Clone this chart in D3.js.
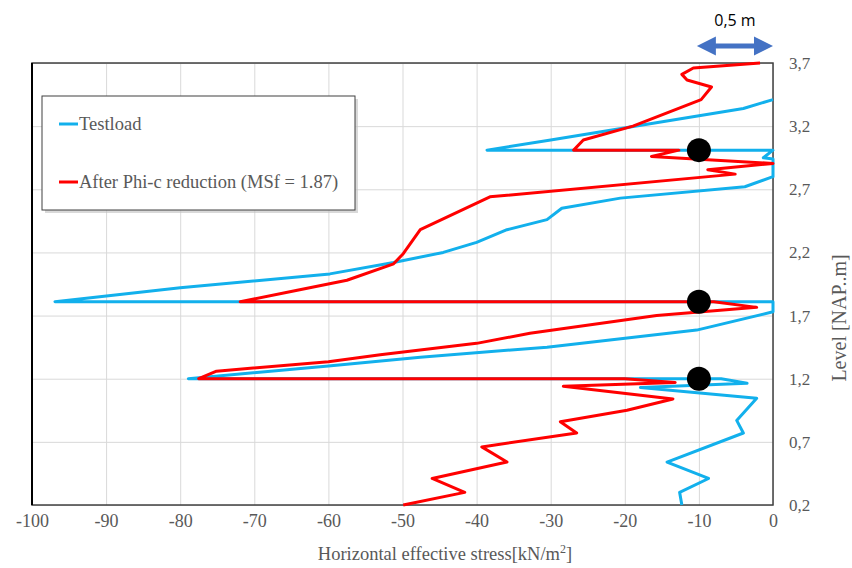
<!DOCTYPE html>
<html>
<head>
<meta charset="utf-8">
<script src="https://cdn.jsdelivr.net/npm/d3@7"></script>
<style>
  body { margin: 0; background: #fff; }
  svg { display: block; }
</style>
</head>
<body>
<svg id="chart" width="852" height="568"></svg>
<script>
/* chart values */
var xTicks = [-100, -90, -80, -70, -60, -50, -40, -30, -20, -10, 0];
var yTicks = [0.2, 0.7, 1.2, 1.7, 2.2, 2.7, 3.2, 3.7];

// Testload profile (stress kN/m2, level m)
var testloadStress = [0, -4, -30, -38.6, 0, -1.3, 0, 0, -3.8, -20.6, -28.5, -30.5, -35.9, -40, -44.5, -51.2, -59.8, -80, -96.9,
  0, 0, -10.3, -30.5, -47.6, -60, -78.9, -7, -3.5, -17.9, -2.2, -4.9, -4.0, -14.3, -8.7, -12.6, -12.3];
var testloadLevel = [3.41, 3.34, 3.09, 3.01, 3.01, 2.95, 2.94, 2.80, 2.72, 2.63, 2.55, 2.46, 2.38, 2.28, 2.20, 2.12, 2.03, 1.92, 1.81,
  1.81, 1.73, 1.585, 1.45, 1.37, 1.30, 1.20, 1.20, 1.165, 1.13, 1.045, 0.87, 0.77, 0.54, 0.41, 0.30, 0.20];

// After Phi-c reduction profile
var reductionStress = [-1.75, -10.75, -12.3, -11.6, -8.3, -9.7, -18.9, -25.6, -26.9, -12.7, -16.4, 0, -8.8, -5.1, -38.2, -47.6,
  -49.9, -51.2, -57.5, -64.2, -71.9, -8, -2.2, -15.7, -32.8, -40, -53, -60, -75.1, -77.5, -20, -13.2, -28.3, -13.5, -19.7,
  -28.7, -26.5, -39.3, -35.9, -46, -41.6, -49.9];
var reductionLevel = [3.70, 3.66, 3.61, 3.565, 3.51, 3.41, 3.20, 3.09, 3.01, 3.01, 2.96, 2.905, 2.855, 2.82, 2.64, 2.38,
  2.19, 2.11, 1.98, 1.90, 1.81, 1.81, 1.765, 1.70, 1.56, 1.48, 1.39, 1.335, 1.26, 1.20, 1.20, 1.17, 1.14, 1.04, 0.95,
  0.86, 0.77, 0.66, 0.54, 0.41, 0.30, 0.20];

// black markers
var markerStress = [-10, -10, -10];
var markerLevel = [3.01, 1.81, 1.20];

var seriesNames = ['Testload', 'After Phi-c reduction (MSf = 1.87)'];
var seriesColors = ['#12b0ec', '#ff0000'];

var svg = d3.select('#chart');
var plotLeft = 32, plotRight = 773, plotTop = 63, plotBottom = 505;
var serif = '"Liberation Serif", "DejaVu Serif", serif';

var x = d3.scaleLinear().domain([-100, 0]).range([plotLeft, plotRight]);
var y = d3.scaleLinear().domain([0.2, 3.7]).range([plotBottom, plotTop]);

var comma = function(d) { return d3.format('.1f')(d).replace('.', ','); };

// gridlines
svg.append('g')
  .attr('transform', 'translate(0,' + plotBottom + ')')
  .call(d3.axisBottom(x).tickValues(xTicks).tickSize(-(plotBottom - plotTop)).tickFormat(''))
  .call(function(g) {
    g.select('.domain').remove();
    g.selectAll('line').attr('stroke', '#d9d9d9').attr('stroke-width', 1);
  });
svg.append('g')
  .attr('transform', 'translate(' + plotLeft + ',0)')
  .call(d3.axisLeft(y).tickValues(yTicks).tickSize(-(plotRight - plotLeft)).tickFormat(''))
  .call(function(g) {
    g.select('.domain').remove();
    g.selectAll('line').attr('stroke', '#d9d9d9').attr('stroke-width', 1);
  });

// tick labels
svg.append('g')
  .attr('transform', 'translate(0,' + (plotBottom + 5) + ')')
  .call(d3.axisBottom(x).tickValues(xTicks).tickSize(0).tickFormat(function(d) { return String(d); }))
  .call(function(g) {
    g.select('.domain').remove();
    g.selectAll('text').attr('font-size', 18).attr('font-family', serif).attr('fill', '#595959').attr('dy', '0.8em');
  });
svg.append('g')
  .attr('transform', 'translate(' + (plotRight + 16) + ',0)')
  .call(d3.axisRight(y).tickValues(yTicks).tickSize(0).tickFormat(comma))
  .call(function(g) {
    g.select('.domain').remove();
    g.selectAll('text').attr('font-size', 17).attr('font-family', serif).attr('fill', '#595959').attr('x', 0);
  });

// plot frame
svg.append('rect')
  .attr('x', plotLeft).attr('y', plotTop)
  .attr('width', plotRight - plotLeft).attr('height', plotBottom - plotTop)
  .attr('fill', 'none').attr('stroke', '#404040').attr('stroke-width', 1.5);
svg.append('line')
  .attr('x1', plotLeft).attr('x2', plotLeft).attr('y1', plotTop).attr('y2', plotBottom)
  .attr('stroke', '#000').attr('stroke-width', 2);

// profiles
var line = d3.line()
  .x(function(d) { return x(d[0]); })
  .y(function(d) { return y(d[1]); });

var profiles = [d3.zip(testloadStress, testloadLevel), d3.zip(reductionStress, reductionLevel)];
svg.append('g').selectAll('path')
  .data(profiles)
  .join('path')
  .attr('d', line)
  .attr('fill', 'none')
  .attr('stroke', function(d, i) { return seriesColors[i]; })
  .attr('stroke-width', 3)
  .attr('stroke-linejoin', 'round');

svg.append('g').selectAll('circle')
  .data(d3.zip(markerStress, markerLevel))
  .join('circle')
  .attr('cx', function(d) { return x(d[0]); })
  .attr('cy', function(d) { return y(d[1]); })
  .attr('r', 12)
  .attr('fill', '#000');

// legend
var legend = svg.append('g').attr('transform', 'translate(42,96)');
legend.append('rect')
  .attr('x', 3).attr('y', 3).attr('width', 313).attr('height', 114)
  .attr('fill', '#bfbfbf').attr('opacity', 0.6);
legend.append('rect')
  .attr('width', 313).attr('height', 114)
  .attr('fill', '#fff').attr('stroke', '#404040').attr('stroke-width', 1);
var item = legend.selectAll('g.item')
  .data(seriesNames)
  .join('g')
  .attr('class', 'item')
  .attr('transform', function(d, i) { return 'translate(0,' + (28 + i * 58) + ')'; });
item.append('line')
  .attr('x1', 17).attr('x2', 36)
  .attr('stroke', function(d, i) { return seriesColors[i]; })
  .attr('stroke-width', 3);
item.append('text')
  .attr('x', 37).attr('dy', '0.35em')
  .attr('font-family', serif)
  .attr('font-size', 18.5)
  .attr('fill', '#595959')
  .text(function(d) { return d; });

// axis titles
var xTitle = svg.append('text')
  .attr('x', 445).attr('y', 560)
  .attr('text-anchor', 'middle')
  .attr('font-family', serif)
  .attr('font-size', 18.5)
  .attr('fill', '#595959');
xTitle.append('tspan').text('Horizontal effective stress[kN/m');
xTitle.append('tspan').attr('font-size', 12).attr('dy', -7).text('2');
xTitle.append('tspan').attr('dy', 7).text(']');

svg.append('text')
  .attr('transform', 'translate(846,318) rotate(-90)')
  .attr('text-anchor', 'middle')
  .attr('font-family', serif)
  .attr('font-size', 20)
  .attr('fill', '#595959')
  .text('Level [NAP..m]');

// 0,5 m scale arrow
var arrowY = 46;
var ax0 = x(-10) - 2, ax1 = x(0);
svg.append('line')
  .attr('x1', ax0 + 15).attr('x2', ax1 - 15)
  .attr('y1', arrowY).attr('y2', arrowY)
  .attr('stroke', '#4472c4').attr('stroke-width', 5);
svg.append('path')
  .attr('d', 'M' + ax0 + ',' + arrowY + 'L' + (ax0 + 19) + ',' + (arrowY - 9.5) + 'L' + (ax0 + 19) + ',' + (arrowY + 9.5) + 'Z')
  .attr('fill', '#4472c4');
svg.append('path')
  .attr('d', 'M' + ax1 + ',' + arrowY + 'L' + (ax1 - 19) + ',' + (arrowY - 9.5) + 'L' + (ax1 - 19) + ',' + (arrowY + 9.5) + 'Z')
  .attr('fill', '#4472c4');
svg.append('text')
  .attr('x', (ax0 + ax1) / 2).attr('y', 26)
  .attr('text-anchor', 'middle')
  .attr('font-family', '"Open Sans", "Liberation Sans", sans-serif')
  .attr('font-size', 16)
  .attr('fill', '#000')
  .text('0,5 m');
</script>
</body>
</html>
